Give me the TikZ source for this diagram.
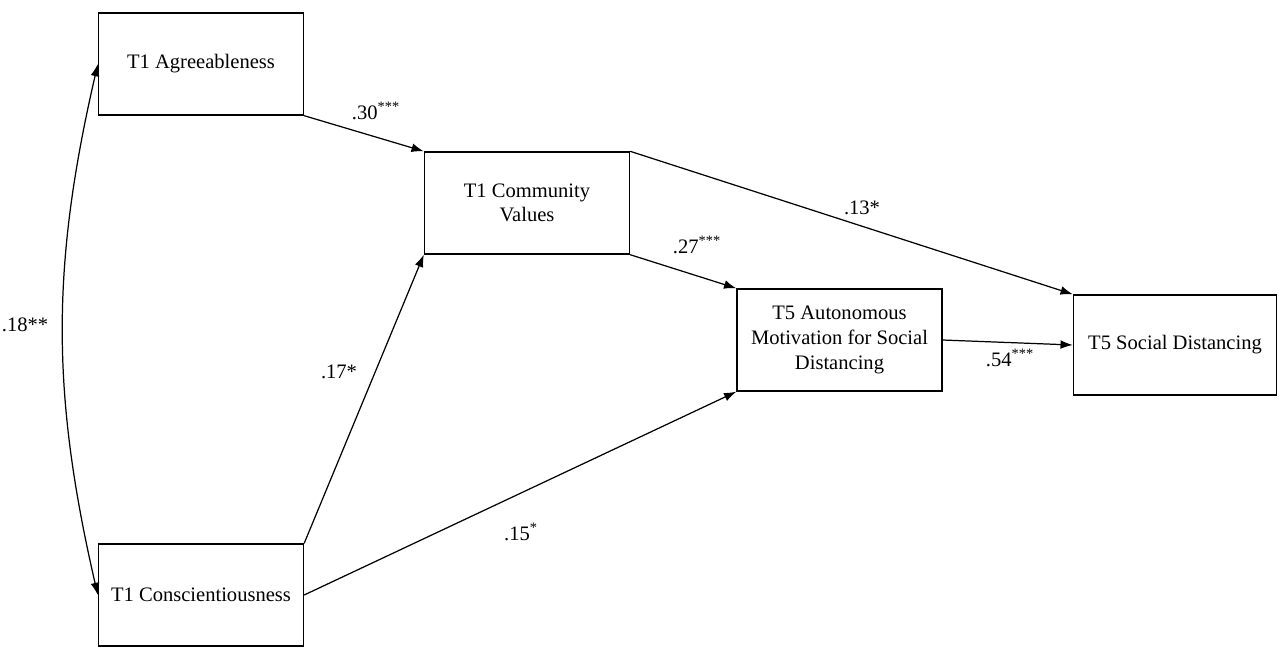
\documentclass[tikz,border=0pt]{standalone}
\usepackage{fontspec}
\setmainfont{Liberation Serif}
\usetikzlibrary{arrows.meta}

\begin{document}
\begin{tikzpicture}[x=0.02cm, y=-0.02cm,
    construct/.style={draw, line width=0.8pt, minimum width=4.1cm, minimum height=2.04cm,
                      align=center, font=\fontsize{11.7}{14}\selectfont, inner sep=2pt},
    path/.style={-{Latex[length=7pt, width=5pt]}, line width=0.7pt},
    coef/.style={font=\fontsize{11.7}{14}\selectfont, inner sep=0pt}]
      % 0. Frame of the picture
      \useasboundingbox (0,0) rectangle (1279,647);

      % 1. The five constructs
      \node[construct] (agree) at (201,64) {T1 Agreeableness};
      \node[construct] (consc) at (201,595) {T1 Conscientiousness};
      \node[construct] (comm) at (527,203) {T1 Community\\Values};
      \node[construct] (auton) at (839.5,340) {T5 Autonomous\\Motivation for Social\\Distancing};
      \node[construct, minimum width=4.06cm, minimum height=2cm] (socdist) at (1175,345) {T5 Social Distancing};

      % 2. Correlation between the two traits
      \draw[{Latex[length=7pt, width=5pt]}-{Latex[length=7pt, width=5pt]}, line width=0.7pt]
            (agree.west) to[bend right=13] (consc.west);
      \node[coef] (r18) at (25,325) {.18**};

      % 3. Paths
      \draw[path] (agree.south east) -- (comm.north west);
      \draw[path] (comm.north east) -- (socdist.north west);
      \draw[path] (comm.south east) -- (auton.north west);
      \draw[path] (auton.east) -- (socdist.west);
      \draw[path] (consc.north east) -- (comm.south west);
      \draw[path] (consc.east) -- (auton.south west);

      % Labels for the paths
      \node[coef] (b30) at (376,111) {.30\textsuperscript{***}};
      \node[coef] (b13) at (862,208) {.13*};
      \node[coef] (b27) at (697,245) {.27\textsuperscript{***}};
      \node[coef] (b54) at (1010,358) {.54\textsuperscript{***}};
      \node[coef] (b17) at (339,372) {.17*};
      \node[coef] (b15) at (521,532) {.15\textsuperscript{*}};

    \end{tikzpicture}
\end{document}
